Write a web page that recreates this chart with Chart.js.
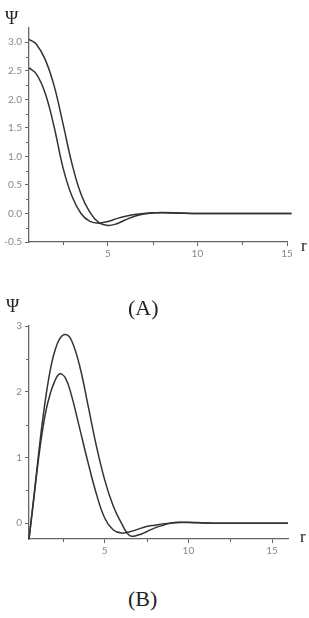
<!DOCTYPE html>
<html>
<head>
<meta charset="utf-8">
<script src="https://cdn.jsdelivr.net/npm/chart.js@4.4.1/dist/chart.umd.min.js"></script>
<style>
  html, body { margin: 0; padding: 0; background: #fff; }
  #wrap { position: relative; width: 309px; height: 618px; overflow: hidden; }
  canvas { position: absolute; left: 0; }
  .lbl { position: absolute; font-family: "Liberation Serif", "DejaVu Serif", serif; color: #222; line-height: 1; white-space: nowrap; }
</style>
</head>
<body>
<div id="wrap">
  <canvas id="chartA" width="309" height="260" style="top:0"></canvas>
  <canvas id="chartB" width="309" height="250" style="top:310px"></canvas>
  <div class="lbl" style="left:5px;top:9px;font-size:18px">Ψ</div>
  <div class="lbl" style="left:301px;top:237px;font-size:17px">r</div>
  <div class="lbl" style="left:128px;top:297px;font-size:22px">(A)</div>
  <div class="lbl" style="left:6px;top:297px;font-size:18px">Ψ</div>
  <div class="lbl" style="left:300px;top:528px;font-size:17px">r</div>
  <div class="lbl" style="left:128px;top:588px;font-size:22px">(B)</div>
</div>
<script>
// panel A: radial grid and the two curves
const rA = [0.6, 1, 1.5, 2, 2.5, 3, 3.5, 4, 4.5, 5, 5.5, 6, 6.5, 7, 7.5, 8, 9, 10, 12, 15.25];
const psiA1 = [3.05, 2.97, 2.70, 2.24, 1.57, 0.87, 0.34, 0.02, -0.16, -0.21, -0.18, -0.11, -0.05, -0.01, 0.01, 0.015, 0.008, 0.0, 0, 0];
const psiA2 = [2.55, 2.45, 2.11, 1.52, 0.80, 0.30, 0.0, -0.14, -0.17, -0.14, -0.09, -0.05, -0.02, 0.0, 0.012, 0.012, 0.005, 0, 0, 0];
const xTicksA = [5, 10, 15];
const xMinorA = [2.5, 7.5, 12.5];
const yTicksA = [-0.5, 0, 0.5, 1, 1.5, 2, 2.5, 3];
const yMinorA = [-0.25, 0.25, 0.75, 1.25, 1.75, 2.25, 2.75];

// panel B
const rB = [0.48, 0.75, 1, 1.25, 1.5, 1.75, 2, 2.3, 2.65, 3, 3.5, 4, 4.5, 5, 5.5, 6, 6.5, 7, 7.5, 8, 8.5, 9, 9.5, 10, 11, 12, 15.95];
const psiB1 = [-0.24, 0.36, 0.93, 1.48, 1.95, 2.33, 2.60, 2.80, 2.87, 2.79, 2.40, 1.80, 1.18, 0.66, 0.27, 0.0, -0.19, -0.18, -0.13, -0.07, -0.03, 0.005, 0.015, 0.015, 0.005, 0, 0];
const psiB2 = [-0.24, 0.33, 0.88, 1.35, 1.72, 1.97, 2.15, 2.27, 2.21, 1.96, 1.45, 0.93, 0.45, 0.08, -0.10, -0.15, -0.13, -0.09, -0.05, -0.03, -0.01, 0.005, 0.012, 0.01, 0.003, 0, 0];
const xTicksB = [5, 10, 15];
const xMinorB = [2.5, 7.5, 12.5];
const yTicksB = [0, 1, 2, 3];
const yMinorB = [0.5, 1.5, 2.5];

const axisColor = '#666';
const lineColor = '#333';

// small ticks between the labelled ones
const minorTicks = {
  id: 'minorTicks',
  afterDraw(chart, args, opts) {
    const ctx = chart.ctx;
    const xs = chart.scales.x, ys = chart.scales.y;
    const area = chart.chartArea;
    ctx.save();
    ctx.strokeStyle = axisColor;
    ctx.lineWidth = 1;
    ctx.beginPath();
    (opts.x || []).forEach(v => {
      const px = Math.round(xs.getPixelForValue(v)) + 0.5;
      ctx.moveTo(px, area.bottom);
      ctx.lineTo(px, area.bottom + 3);
    });
    (opts.y || []).forEach(v => {
      const py = Math.round(ys.getPixelForValue(v)) + 0.5;
      ctx.moveTo(area.left, py);
      ctx.lineTo(area.left - 3, py);
    });
    ctx.stroke();
    ctx.restore();
  }
};

function makeChart(id, r, s1, s2, cfg) {
  const pts = s => r.map((x, i) => ({ x: x, y: s[i] }));
  const ds = s => ({
    data: pts(s),
    showLine: true,
    borderColor: lineColor,
    borderWidth: 1.5,
    pointRadius: 0,
    tension: 0.4,
    clip: false
  });
  const tickFont = { family: 'Lato, "DejaVu Sans", sans-serif', size: 10 };
  return new Chart(document.getElementById(id), {
    type: 'scatter',
    data: { datasets: [ds(s1), ds(s2)] },
    options: {
      responsive: false,
      animation: false,
      devicePixelRatio: 1,
      layout: { padding: cfg.padding },
      plugins: {
        legend: { display: false },
        tooltip: { enabled: false },
        minorTicks: { x: cfg.xMinor, y: cfg.yMinor }
      },
      scales: {
        x: {
          type: 'linear',
          min: cfg.xMin, max: cfg.xMax,
          afterBuildTicks: s => { s.ticks = cfg.xTicks.map(v => ({ value: v })); },
          afterFit: s => { s.height = cfg.xHeight; },
          border: { display: true, color: axisColor, width: 1.3 },
          grid: { display: true, drawOnChartArea: false, drawTicks: true, tickLength: 4, color: axisColor },
          ticks: { color: '#888', font: tickFont, padding: 2, maxRotation: 0,
                   callback: v => String(v) }
        },
        y: {
          type: 'linear',
          min: cfg.yMin, max: cfg.yMax,
          afterBuildTicks: s => { s.ticks = cfg.yTicks.map(v => ({ value: v })); },
          afterFit: s => { s.width = 29; },
          border: { display: true, color: axisColor, width: 1.3 },
          grid: { display: true, drawOnChartArea: false, drawTicks: true, tickLength: 4, color: axisColor },
          ticks: { color: '#888', font: tickFont, padding: 3,
                   callback: v => cfg.yDigits ? v.toFixed(cfg.yDigits) : String(v) }
        }
      }
    },
    plugins: [minorTicks]
  });
}

makeChart('chartA', rA, psiA1, psiA2, {
  padding: { top: 28, right: 22, left: 0, bottom: 0 },
  xMin: 0.6, xMax: 15, yMin: -0.5, yMax: 3.25,
  xTicks: xTicksA, xMinor: xMinorA, yTicks: yTicksA, yMinor: yMinorA,
  xHeight: 18, yDigits: 1
});

makeChart('chartB', rB, psiB1, psiB2, {
  padding: { top: 16, right: 21, left: 0, bottom: 0 },
  xMin: 0.48, xMax: 15.95, yMin: -0.24, yMax: 3,
  xTicks: xTicksB, xMinor: xMinorB, yTicks: yTicksB, yMinor: yMinorB,
  xHeight: 21, yDigits: 0
});
</script>
</body>
</html>
